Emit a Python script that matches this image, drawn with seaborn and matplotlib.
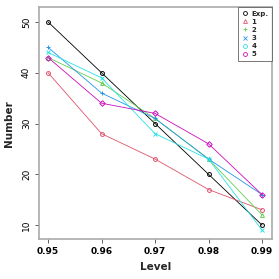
import pandas as pd
import matplotlib.pyplot as plt
import numpy as np
import seaborn as sns
from matplotlib.lines import Line2D

sns.set_style("ticks")
plt.rcParams['font.family'] = ['DejaVu Sans']

level = [0.95, 0.96, 0.97, 0.98, 0.99]
exp_vals = [50, 40, 30, 20, 10]
s1 = [40, 28, 23, 17, 13]
s2 = [43, 38, 31, 23, 12]
s3 = [45, 36, 31, 23, 16]
s4 = [44, 39, 28, 23, 9]
s5 = [43, 34, 32, 26, 16]

names = ["Exp.", "1", "2", "3", "4", "5"]
series = [exp_vals, s1, s2, s3, s4, s5]
colors = ["black", "#DF536B", "#61D04F", "#2297E6", "#28E2E5", "#CD0BBC"]
plot_markers = ["o", "o", "^", "+", "x", "D"]
leg_markers = ["o", "^", "+", "x", "o", "o"]

fig = plt.figure(figsize=(2.79, 2.79), dpi=100)
ax = fig.add_axes([0.141, 0.143, 0.833, 0.831])

for name, vals, c, m in zip(names, series, colors, plot_markers):
    df = pd.DataFrame({"Level": level, "Number": vals})
    sns.lineplot(data=df, x="Level", y="Number", color=c, marker=m,
                 markersize=2.8, markerfacecolor="none", markeredgecolor=c,
                 markeredgewidth=0.7, linewidth=0.6, ax=ax, legend=False)

ax.set_xlim(0.94837, 0.99181)
ax.set_ylim(7.24, 52.9)
ax.set_xticks(level)
ax.set_xticklabels(["0.95", "0.96", "0.97", "0.98", "0.99"], fontweight="bold", fontsize=6.5)
ax.set_yticks([10, 20, 30, 40, 50])
ax.set_yticklabels(["10", "20", "30", "40", "50"], rotation=90, va="center", fontsize=6.5)
ax.set_xlabel("Level", fontweight="bold", fontsize=7.5, labelpad=4)
ax.set_ylabel("Number", fontweight="bold", fontsize=7.5, labelpad=6)
ax.tick_params(length=3, width=0.6, colors="#444444", labelcolor="black", pad=3)
for sp in ax.spines.values():
    sp.set_visible(True)
    sp.set_color("#aaaaaa")
    sp.set_linewidth(1.2)

handles = [Line2D([], [], linestyle="none", marker=m, color=c, markerfacecolor="none",
                  markersize=2.8, markeredgewidth=0.6) for m, c in zip(leg_markers, colors)]
leg = ax.legend(handles, names, loc="upper right", fontsize=5, frameon=True,
                fancybox=False, borderaxespad=0.0, handlelength=1.0,
                handletextpad=0.4, labelspacing=0.3, borderpad=0.5)
leg.get_frame().set_edgecolor("#555555")
leg.get_frame().set_linewidth(0.7)
for t in leg.get_texts():
    t.set_fontweight("bold")

plt.savefig("out.png", dpi=100)
